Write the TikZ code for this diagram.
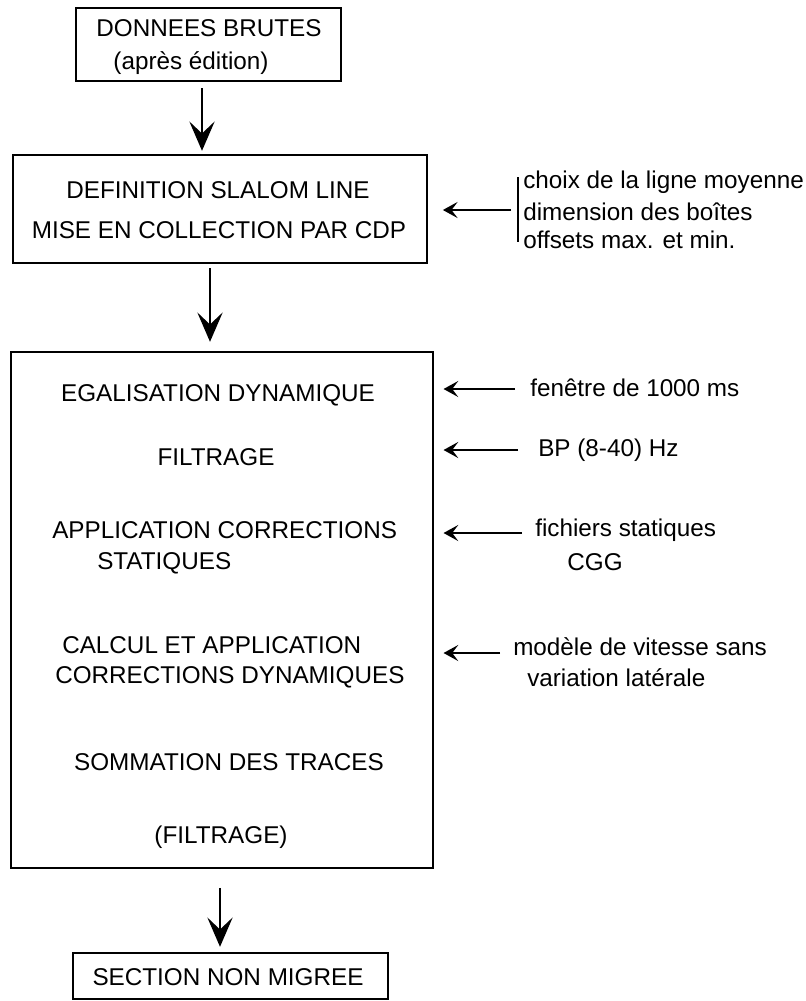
\documentclass[tikz,border=0pt]{standalone}
\usepackage{fontspec}
\setmainfont{Liberation Sans}
\usetikzlibrary{arrows.meta}
\begin{document}
\begin{tikzpicture}[x=0.75pt,y=-0.75pt,
 box/.style={draw,line width=1.8pt,inner sep=0pt},
 lab/.style={font=\fontsize{18.2}{22}\selectfont,inner sep=0pt},
 varr/.style={line width=1.5pt,-{Stealth[length=22pt,width=19pt,inset=9pt]}},
 harr/.style={line width=1.5pt,-{Stealth[length=11pt,width=12pt,inset=4.5pt]}}]
\useasboundingbox (0,0) rectangle (806,1001);
% boxes
\node[box,minimum width=198.75pt,minimum height=54.75pt] (b1) at (208.5,44.5) {};
\node[box,minimum width=310.5pt,minimum height=81pt] (b2) at (220,209) {};
\node[box,minimum width=316.5pt,minimum height=387pt] (b3) at (222,610) {};
\node[box,minimum width=236.25pt,minimum height=34.5pt] (b4) at (230.5,976) {};
% box texts
\node[lab] (t1a) at (209,28) {DONNEES BRUTES};
\node[lab] (t1b) at (191,63) {(après édition)};
\node[lab] (t2a) at (218,190) {DEFINITION SLALOM LINE};
\node[lab] (t2b) at (219,230) {MISE EN COLLECTION PAR CDP};
\node[lab] (s1) at (218,395) {EGALISATION DYNAMIQUE};
\node[lab] (s2) at (216,457) {FILTRAGE};
\node[lab,anchor=west] (s3a) at (52,530) {APPLICATION CORRECTIONS};
\node[lab,anchor=west] (s3b) at (97,563) {STATIQUES};
\node[lab,anchor=west] (s4a) at (62,645) {CALCUL ET APPLICATION};
\node[lab,anchor=west] (s4b) at (55,677) {CORRECTIONS DYNAMIQUES};
\node[lab] (s5) at (229,762) {SOMMATION DES TRACES};
\node[lab] (s6) at (221,837) {(FILTRAGE)};
\node[lab] (t4) at (228,977) {SECTION NON MIGREE};
% right-side texts
\node[lab,anchor=west] (r1a) at (523,182) {choix de la ligne moyenne};
\node[lab,anchor=west] (r1b) at (523,212) {dimension des boîtes};
\node[lab,anchor=west] (r1c) at (523,240) {offsets max. et min.};
\node[lab,anchor=west] (r2) at (530,388) {fenêtre de 1000 ms};
\node[lab,anchor=west] (r3) at (538,450) {BP (8-40) Hz};
\node[lab,anchor=west] (r4a) at (535,530) {fichiers statiques};
\node[lab] (r4b) at (595,562) {CGG};
\node[lab,anchor=west] (r5a) at (513,647) {modèle de vitesse sans};
\node[lab,anchor=west] (r5b) at (527,678) {variation latérale};
% bracket
\coordinate (k1) at (518,177);
\coordinate (k2) at (518,242);
\coordinate (k0) at (511,210);
\draw[line width=1.3pt] (k1) -- (k2);
% vertical arrows
\coordinate (v1) at (202,0);
\coordinate (v2) at (210,0);
\coordinate (v3) at (220,0);
\draw[varr,shorten <=4.5pt,shorten >=2.25pt] (b1.south -| v1) -- (b2.north -| v1);
\draw[varr,shorten <=3pt,shorten >=6.75pt] (b2.south -| v2) -- (b3.north -| v2);
\draw[varr,shorten <=14pt,shorten >=3.75pt] (b3.south -| v3) -- (b4.north -| v3);
% horizontal arrows
\draw[harr,shorten >=11pt] (k0) -- (b2.east |- k0);
\coordinate (h1) at (515,389);
\coordinate (h2) at (518,450);
\coordinate (h3) at (522,533);
\coordinate (h4) at (500,653);
\draw[harr,shorten >=7pt] (h1) -- (b3.east |- h1);
\draw[harr,shorten >=7pt] (h2) -- (b3.east |- h2);
\draw[harr,shorten >=7pt] (h3) -- (b3.east |- h3);
\draw[harr,shorten >=7pt] (h4) -- (b3.east |- h4);
\end{tikzpicture}
\end{document}
